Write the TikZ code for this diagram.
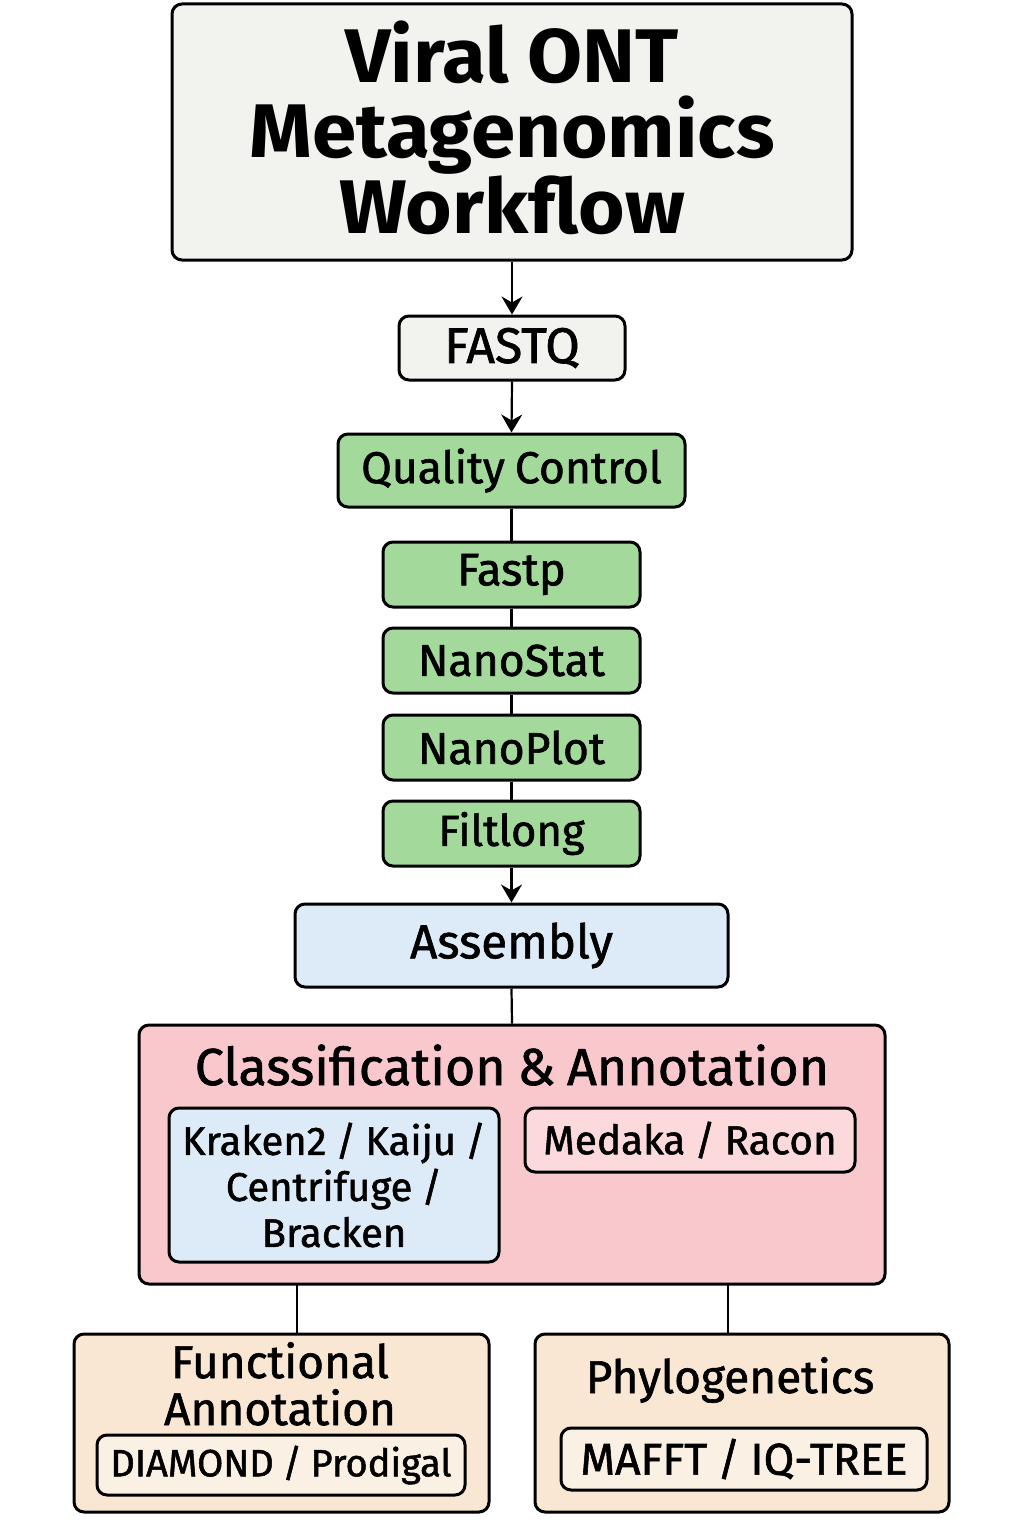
\documentclass[tikz,border=0pt]{standalone}
\usepackage{fontspec}
\setmainfont{Fira Sans}[FakeBold=1.3, WordSpace=0.85]
\newfontfamily\titlefont{Fira Sans}[FakeStretch=1.05]
\usetikzlibrary{arrows.meta}
\definecolor{cgray}{HTML}{F2F3EF}
\definecolor{cgreen}{HTML}{A3D99B}
\definecolor{cblue}{HTML}{DDEBF8}
\definecolor{cpink}{HTML}{F9C8CC}
\definecolor{cpinkin}{HTML}{FCDADB}
\definecolor{cbeige}{HTML}{F9E7D3}
\definecolor{cbeigein}{HTML}{FBF0E4}
\tikzset{
  box/.style={draw=black, line width=3pt, rounded corners=10pt, inner sep=0pt, align=center},
  conn/.style={draw=black, line width=2.2pt},
  arr/.style={conn, -{Stealth[length=18pt,width=21pt,inset=6pt]}},
  fs/.style={font=\fontsize{#1}{#1}\selectfont},
}
\begin{document}
\begin{tikzpicture}[x=1pt,y=-1pt]
\useasboundingbox (0,0) rectangle (1024,1536);
\fill[white] (0,0) rectangle (1024,1536);

% title
\node[box, fill=cgray, minimum width=680pt, minimum height=256pt] (title) at (512,132) {};
\node[font=\titlefont\bfseries\fontsize{76}{75.5}\selectfont, align=center, anchor=base] (titletxt) at (512,233) {Viral ONT\\Metagenomics\\Workflow};

\node[box, fill=cgray, minimum width=226pt, minimum height=64pt, fs=50] (fastq) at (512,348) {FASTQ};
\node[box, fill=cgreen, minimum width=347pt, minimum height=73pt, fs=44.5] (qc) at (511.5,470.5) {Quality Control};
\node[box, fill=cgreen, minimum width=257pt, minimum height=65pt, fs=45.5] (fastp) at (511.5,574.5) {Fastp};
\node[box, fill=cgreen, minimum width=257pt, minimum height=65pt, fs=44.5] (nanostat) at (511.5,660.5) {NanoStat};
\node[box, fill=cgreen, minimum width=257pt, minimum height=65pt, fs=44.5] (nanoplot) at (511.5,747.5) {NanoPlot};
\node[box, fill=cgreen, minimum width=257pt, minimum height=65pt, fs=43.5] (filtlong) at (511.5,833.5) {Filtlong};
\node[box, fill=cblue, minimum width=433pt, minimum height=83pt, fs=47.5] (assembly) at (511.5,945.5) {Assembly};

% classification
\node[box, fill=cpink, minimum width=746pt, minimum height=259pt] (classbox) at (512,1154.5) {};
\node[fs=52, anchor=base] (classtxt) at (512,1085) {Classification \& Annotation};
\node[box, fill=cblue, minimum width=330pt, minimum height=154pt, font=\fontsize{40}{46}\selectfont] (kraken) at (334,1185) {Kraken2 / Kaiju /\\Centrifuge /\\Bracken};
\node[box, fill=cpinkin, minimum width=330pt, minimum height=64pt, fs=40.5] (medaka) at (690,1140) {Medaka / Racon};

% bottom
\node[box, fill=cbeige, minimum width=415pt, minimum height=178pt] (func) at (281.5,1423) {};
\node[font=\fontsize{46}{47}\selectfont, align=center, anchor=base] (functxt) at (280,1425) {Functional\\Annotation};
\node[box, fill=cbeigein, minimum width=368pt, minimum height=60pt, fs=38] (diamond) at (281,1465) {DIAMOND / Prodigal};

\node[box, fill=cbeige, minimum width=414pt, minimum height=178pt] (phylo) at (742,1423) {};
\node[fs=46, anchor=base] (phylotxt) at (730,1393) {Phylogenetics};
\node[box, fill=cbeigein, minimum width=366pt, minimum height=62pt, fs=44.5] (mafft) at (744,1459) {MAFFT / IQ-TREE};

% connectors
\draw[arr] (title.south) -- (fastq.north);
\draw[arr] (fastq.south) -- (qc.north);
\draw[conn] (qc.south) -- (fastp.north);
\draw[conn] (fastp.south) -- (nanostat.north);
\draw[conn] (nanostat.south) -- (nanoplot.north);
\draw[conn] (nanoplot.south) -- (filtlong.north);
\draw[arr] (filtlong.south) -- (assembly.north);
\draw[conn] (assembly.south) -- (classbox.north);
\coordinate (cl1) at (297,1284);
\coordinate (cl2) at (728,1284);
\draw[conn] (cl1) -- (cl1 |- func.north);
\draw[conn] (cl2) -- (cl2 |- phylo.north);
\end{tikzpicture}
\end{document}
